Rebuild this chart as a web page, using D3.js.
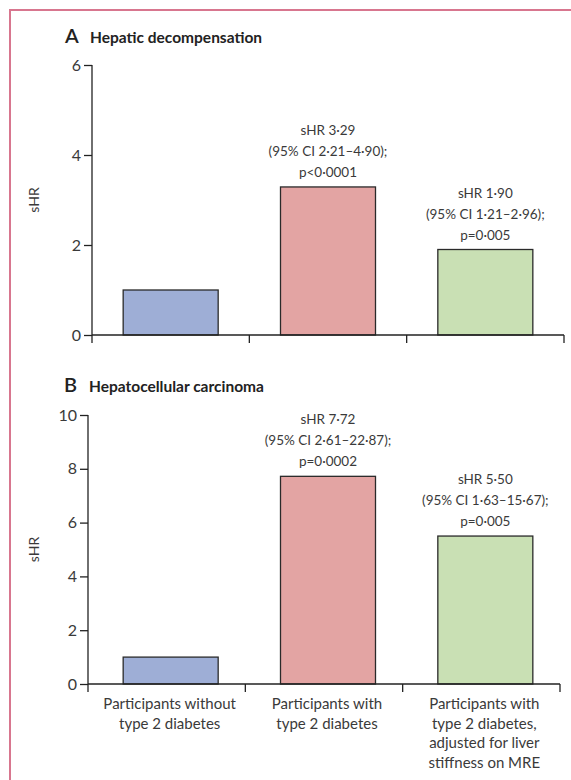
<!DOCTYPE html>
<html>
<head>
<meta charset="utf-8">
<script src="https://cdn.jsdelivr.net/npm/d3@7"></script>
<style>
  body { margin: 0; background: #fff; }
  svg { font-family: Lato, "Open Sans", sans-serif; }
</style>
</head>
<body>
<div id="chart"></div>
<script>
// Categories (shared by both panels)
const categories = [
    ["Participants without", "type 2 diabetes"],
    ["Participants with", "type 2 diabetes"],
    ["Participants with", "type 2 diabetes,", "adjusted for liver", "stiffness on MRE"]
];
const barColors = ["#9eaed6", "#e3a4a3", "#c9e0b4"];

// Panel A: hepatic decompensation
const hepaticValues = [1, 3.29, 1.90];
const hepaticTicks = [0, 2, 4, 6];
const hepaticNotes = [
    null,
    ["sHR 3·29", "(95% CI 2·21–4·90);", "p<0·0001"],
    ["sHR 1·90", "(95% CI 1·21–2·96);", "p=0·005"]
];

// Panel B: hepatocellular carcinoma
const hccValues = [1, 7.72, 5.50];
const hccTicks = [0, 2, 4, 6, 8, 10];
const hccNotes = [
    null,
    ["sHR 7·72", "(95% CI 2·61–22·87);", "p=0·0002"],
    ["sHR 5·50", "(95% CI 1·63–15·67);", "p=0·005"]
];

const width = 571, height = 780;
const textColor = "#3a3a3a";

const svg = d3.select("#chart").append("svg")
    .attr("width", width)
    .attr("height", height);

// Pink frame (only left and top edges are visible)
svg.append("path")
    .attr("d", `M10,${height} V10 H${width}`)
    .attr("fill", "none")
    .attr("stroke", "#d8768f")
    .attr("stroke-width", 2);

// Bars share the same horizontal placement in both panels
const xBars = d3.scaleBand()
    .domain(d3.range(categories.length))
    .range([92, 564]);

function drawPanel(opts) {
    const g = svg.append("g");
    const y = d3.scaleLinear()
        .domain([0, d3.max(opts.ticks)])
        .range([opts.bottom, opts.top]);
    const xAxis = d3.scaleBand()
        .domain(d3.range(categories.length))
        .range([opts.axisX, opts.axisX + 472]);

    // Title
    const title = g.append("text")
        .attr("x", opts.letterX)
        .attr("y", opts.titleY)
        .attr("fill", "#222");
    title.append("tspan")
        .attr("font-size", 20)
        .attr("font-weight", 600)
        .text(opts.letter);
    title.append("tspan")
        .attr("x", opts.letterX + 25)
        .attr("font-size", 15.5)
        .attr("font-weight", 700)
        .text(opts.title);

    // Bars
    const bw = 95;
    g.selectAll("rect.bar")
        .data(opts.values)
        .enter().append("rect")
        .attr("class", "bar")
        .attr("x", (d, i) => xBars(i) + xBars.bandwidth() / 2 - bw / 2)
        .attr("y", d => y(d))
        .attr("width", bw)
        .attr("height", d => y(0) - y(d))
        .attr("fill", (d, i) => barColors[i])
        .attr("stroke", "#2a2a2a")
        .attr("stroke-width", 1.3);

    // Annotations above bars
    opts.notes.forEach((lines, i) => {
        if (!lines) return;
        const cx = xBars(i) + xBars.bandwidth() / 2;
        const last = y(opts.values[i]) - 10;
        lines.forEach((line, k) => {
            g.append("text")
                .attr("x", cx)
                .attr("y", last - (lines.length - 1 - k) * 21)
                .attr("text-anchor", "middle")
                .attr("font-size", 13.5)
                .attr("fill", textColor)
                .text(line);
        });
    });

    // Y axis
    const yAxis = g.append("g")
        .attr("transform", `translate(${opts.axisX},0)`)
        .call(d3.axisLeft(y).tickValues(opts.ticks).tickFormat(d3.format("d"))
            .tickSize(8).tickPadding(3));
    yAxis.select(".domain").remove();
    yAxis.selectAll(".tick line").attr("stroke", "#222").attr("stroke-width", 1.3);
    yAxis.selectAll(".tick text")
        .attr("font-size", 16)
        .attr("font-family", "Lato, sans-serif")
        .attr("fill", textColor);

    g.append("line")
        .attr("x1", opts.axisX).attr("x2", opts.axisX)
        .attr("y1", y(d3.max(opts.ticks))).attr("y2", y(0) + 8)
        .attr("stroke", "#222").attr("stroke-width", 1.3);

    // X baseline and category separators
    g.append("line")
        .attr("x1", opts.axisX).attr("x2", opts.axisX + 472)
        .attr("y1", y(0)).attr("y2", y(0))
        .attr("stroke", "#222").attr("stroke-width", 1.3);
    const seps = xAxis.domain().map(i => xAxis(i) + xAxis.bandwidth());
    g.selectAll("line.sep")
        .data(seps)
        .enter().append("line")
        .attr("class", "sep")
        .attr("x1", d => d).attr("x2", d => d)
        .attr("y1", y(0)).attr("y2", y(0) + 8)
        .attr("stroke", "#222").attr("stroke-width", 1.3);

    // Y title
    g.append("text")
        .attr("transform", `translate(39,${(y(0) + y(d3.max(opts.ticks))) / 2}) rotate(-90)`)
        .attr("text-anchor", "middle")
        .attr("font-size", 14)
        .attr("fill", textColor)
        .text("sHR");

    return y;
}

drawPanel({
    letter: "A", title: "Hepatic decompensation",
    letterX: 65, titleY: 43,
    values: hepaticValues, ticks: hepaticTicks, notes: hepaticNotes,
    axisX: 92, top: 65, bottom: 335
});

const yB = drawPanel({
    letter: "B", title: "Hepatocellular carcinoma",
    letterX: 64, titleY: 392,
    values: hccValues, ticks: hccTicks, notes: hccNotes,
    axisX: 88, top: 415, bottom: 684
});

// Category labels under panel B
categories.forEach((lines, i) => {
    const cx = xBars(i) + xBars.bandwidth() / 2 - 1;
    lines.forEach((line, k) => {
        svg.append("text")
            .attr("x", cx)
            .attr("y", yB(0) + 25 + k * 19.7)
            .attr("text-anchor", "middle")
            .attr("font-size", 15)
            .attr("fill", textColor)
            .text(line);
    });
});
</script>
</body>
</html>
